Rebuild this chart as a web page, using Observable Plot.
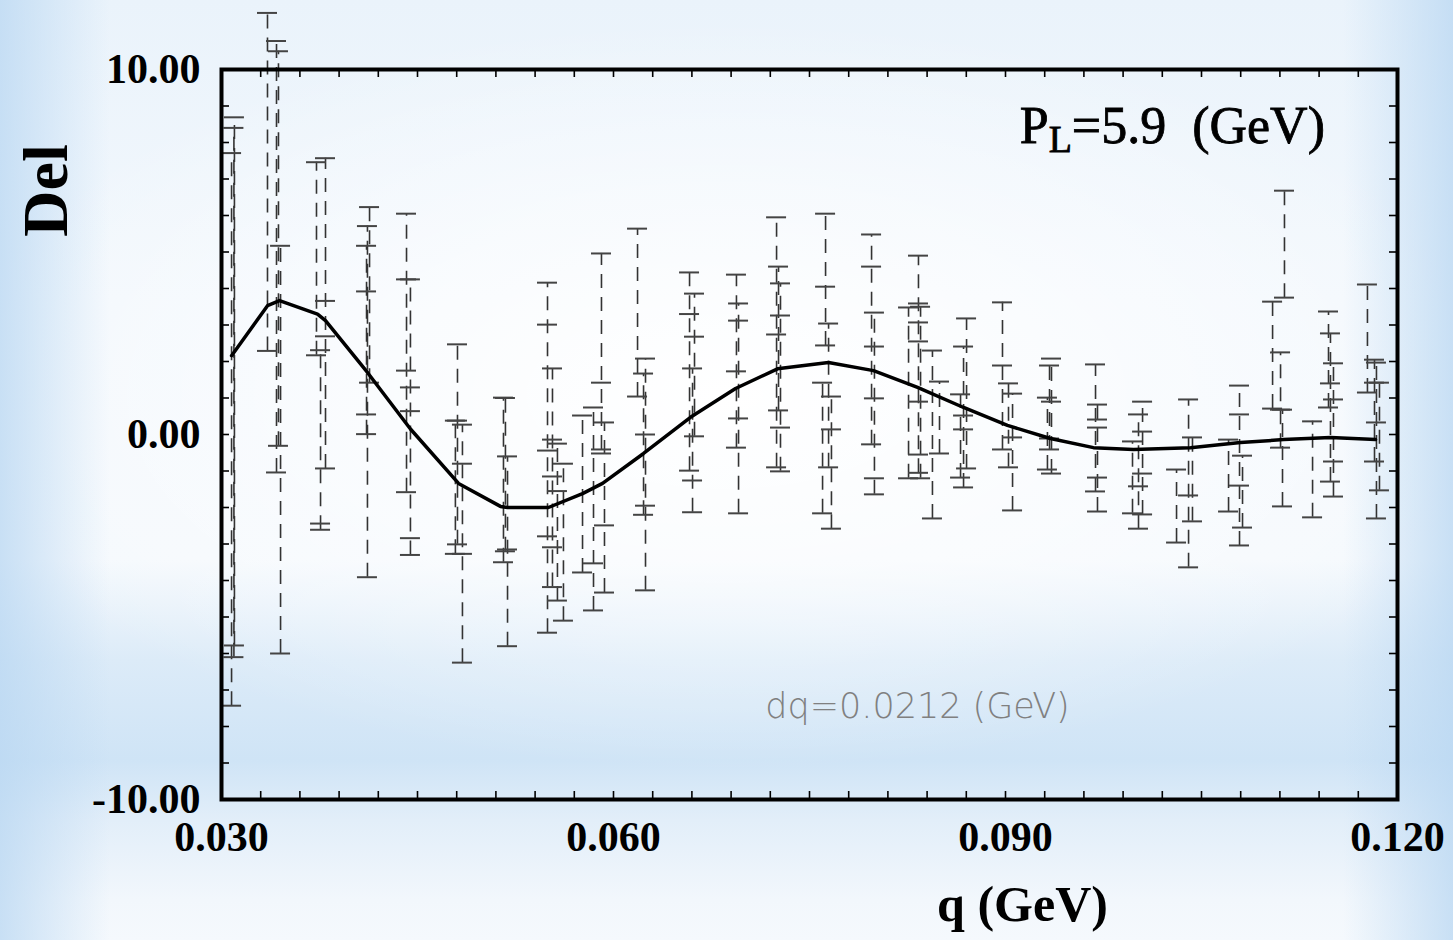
<!DOCTYPE html>
<html>
<head>
<meta charset="utf-8">
<script src="https://cdn.jsdelivr.net/npm/d3@7"></script>
<script src="https://cdn.jsdelivr.net/npm/@observablehq/plot@0.6"></script>
<style>
html, body { margin: 0; padding: 0; width: 1453px; height: 940px; overflow: hidden; }
body {
  background:
    linear-gradient(to right, rgba(185,215,242,0.75) 0px, rgba(185,215,242,0) 110px, rgba(185,215,242,0) 1343px, rgba(185,215,242,0.75) 1453px),
    radial-gradient(ellipse 55% 40% at 50% 42%, rgba(255,255,255,1) 0%, rgba(255,255,255,0) 100%),
    linear-gradient(to bottom, #eaf3fb 0px, #f3f8fd 300px, #f5f9fd 560px, #dcebf8 660px, #cfe4f6 760px, #e2eef9 820px, #f2f7fc 900px, #f5f9fd 940px);
}
#chart { position: absolute; left: 0; top: 0; }
</style>
</head>
<body>
<div id="chart"></div>
<script>
// ---- Data ----
// Theory curve
const curveQ   = [0.03077, 0.03352, 0.03444, 0.03735, 0.03796, 0.04117, 0.04446, 0.04814, 0.05135, 0.05189, 0.05502, 0.05763, 0.05916, 0.06230, 0.06589, 0.06934, 0.07255, 0.07645, 0.07990, 0.08327, 0.08679, 0.09015, 0.09344, 0.09673, 0.09980, 0.10416, 0.10798, 0.11128, 0.11487, 0.11832];
const curveDel = [2.16, 3.53, 3.67, 3.30, 3.12, 1.70, 0.15, -1.34, -1.97, -2.00, -2.00, -1.62, -1.34, -0.52, 0.47, 1.26, 1.80, 1.97, 1.75, 1.29, 0.74, 0.25, -0.11, -0.36, -0.41, -0.36, -0.22, -0.14, -0.08, -0.14];

// Error bars (dashed): position, lower end, upper end
const barQ  = [0.03077, 0.03099, 0.03095,
               0.03352, 0.03421, 0.03436, 0.03452,
               0.03727, 0.03796, 0.03758,
               0.04133, 0.04117, 0.04110,
               0.04416, 0.04446,
               0.04806, 0.04844, 0.04790,
               0.05158, 0.05189, 0.05173,
               0.05495, 0.05533, 0.05571, 0.05617,
               0.05763, 0.05847, 0.05908, 0.05931,
               0.06184, 0.06245, 0.06230,
               0.06582, 0.06620, 0.06605,
               0.06941, 0.06957,
               0.07248, 0.07263, 0.07278,
               0.07600, 0.07623, 0.07646, 0.07668,
               0.07975, 0.07997,
               0.08258, 0.08334, 0.08350, 0.08441, 0.08495,
               0.08656, 0.08702, 0.08679,
               0.08977, 0.09023, 0.09054,
               0.09321, 0.09337, 0.09352,
               0.09689, 0.09704,
               0.09972, 0.10018, 0.10049,
               0.10309, 0.10401, 0.10431,
               0.10707, 0.10791, 0.10814,
               0.11135, 0.11044, 0.11105, 0.11120,
               0.11350, 0.11472, 0.11487, 0.11510,
               0.11770, 0.11824, 0.11839, 0.11862];
const barLo = [-7.43, -5.78, -6.10,
               2.29, -1.04, -0.31, -6.00,
               2.17, -0.93, -2.61,
               1.42, -3.91, 0.01,
               -1.58, -3.30,
               -3.01, -6.25, -3.27,
               -3.50, -5.80, -3.20,
               -5.43, -4.18, -4.55, -5.10,
               -3.78, -4.82, -0.41, -4.33,
               1.04, -4.27, -2.20,
               -0.99, -0.05, -2.13,
               -0.36, -2.16,
               -0.90, 0.66, -1.01,
               -2.16, 2.44, -0.90, -2.58,
               -0.27, -1.64,
               -1.20, -1.05, -1.20, -2.30, -0.52,
               -1.18, -0.93, -1.45,
               -0.41, -0.90, -2.08,
               -0.96, -0.41, -1.07,
               -1.56, -2.11,
               -2.16, -2.58, -2.19,
               -2.96, -3.64, -2.38,
               -2.11, -3.04, -2.55,
               3.75, 0.71, -0.36, -1.97,
               -2.27, 0.74, -1.29, -1.70,
               1.15, -0.74, -2.30, -1.53];
const barHi = [7.71, 8.69, 8.40,
               11.55, 10.78, 10.50, 5.17,
               7.46, 7.57, 2.31,
               6.23, 5.71, 5.17,
               6.05, 4.25,
               2.47, 0.27, 0.38,
               1.01, -0.60, 1.00,
               4.16, 1.81, -0.25, -0.80,
               0.52, 0.74, 4.96, 0.33,
               5.64, 2.08, 1.67,
               4.44, 3.86, 1.81,
               4.38, 3.59,
               5.95, 4.60, 4.14,
               1.42, 6.05, 3.04, 1.04,
               5.48, 3.34,
               3.48, 4.90, 3.50, 2.30, 1.45,
               1.10, 3.18, 2.41,
               3.62, 1.40, 1.12,
               1.01, 1.89, 2.08,
               1.92, 0.82,
               -0.19, 0.55, 0.90,
               -0.96, 0.96, -0.08,
               -0.14, 1.34, -0.58,
               6.68, 3.64, 2.25, 0.68,
               0.36, 3.37, 2.77, 1.95,
               4.11, 2.05, 1.97, 1.42];

// Intermediate tick marks on the bars
const tickQ   = [0.03796, 0.03796, 0.03758,
                 0.04110, 0.04110,
                 0.04416, 0.04416, 0.04446, 0.04446, 0.04446,
                 0.04806, 0.04844, 0.04844,
                 0.05189,
                 0.05495, 0.05495, 0.05495, 0.05533, 0.05533, 0.05533, 0.05571,
                 0.05847, 0.05908, 0.05908, 0.05931,
                 0.06245, 0.06245,
                 0.06582, 0.06620, 0.06605,
                 0.06941, 0.06957, 0.06957,
                 0.07248, 0.07278, 0.07278,
                 0.07623, 0.07668,
                 0.07975, 0.07997, 0.07997, 0.07997,
                 0.08334, 0.08334, 0.08334, 0.08334, 0.08334,
                 0.08679, 0.08679,
                 0.08977, 0.09054,
                 0.09352, 0.09337,
                 0.09704, 0.09704, 0.09704,
                 0.10018, 0.10049, 0.10049,
                 0.10401,
                 0.10791, 0.10791,
                 0.11105,
                 0.11487, 0.11510, 0.11510,
                 0.11839, 0.11824];
const tickDel = [3.66, 2.69, -2.44,
                 3.92, 0.55,
                 4.25, 1.75, 1.29, 0.64, -2.84,
                 0.38, -0.80, -3.27,
                 -3.15,
                 3.01, -0.44, -2.79, -0.14, -1.15, -3.09, -1.55,
                 -3.53, 1.42, -0.52, -2.49,
                 0.00, -1.95,
                 3.30, 2.68, -1.26,
                 1.73, 3.12, 0.44,
                 2.74, 3.26, 0.19,
                 4.05, 0.14,
                 4.60, 2.41, 0.99, -1.20,
                 3.59, 3.07, 2.55, 0.90, -0.55,
                 0.52, 0.14,
                 1.89, -0.08,
                 0.90, -0.11,
                 0.41, 0.19, -1.18,
                 -1.42, 0.08, -1.07,
                 -1.67,
                 0.55, -1.40,
                 0.68,
                 1.40, 0.96, -0.74,
                 0.33, 1.42];

// Axis ticks
const xTickValues = [0.030, 0.060, 0.090, 0.120];
const yTickValues = [-10, 0, 10];
const xMinorTicks = d3.range(0, 31).map(i => 0.030 + i * 0.003);
const yMinorTicks = d3.range(-10, 11, 1);

// ---- Build ----
const W = 1453, H = 940;
const mL = 221, mR = 56, mT = 69, mB = 141;
const xDomain = [0.030, 0.120], yDomain = [-10, 10];
const pxPerQ = (W - mL - mR) / (xDomain[1] - xDomain[0]);
const pxPerDel = (H - mT - mB) / (yDomain[1] - yDomain[0]);
const capHalf = 10 / pxPerQ;      // 10 px half-width caps
const tickLenY = 8 / pxPerDel;    // 8 px inward ticks (vertical)
const tickLenX = 8 / pxPerQ;      // 8 px inward ticks (horizontal)

const curve = curveQ.map((q, i) => ({q, del: curveDel[i]}));
const bars = barQ.map((q, i) => ({q, lo: barLo[i], hi: barHi[i]}));
const caps = bars.flatMap(b => [{q: b.q, del: b.lo}, {q: b.q, del: b.hi}])
  .concat(tickQ.map((q, i) => ({q, del: tickDel[i]})));

const serif = "Liberation Serif, Times New Roman, serif";

const plot = Plot.plot({
  width: W, height: H,
  marginLeft: mL, marginRight: mR, marginTop: mT, marginBottom: mB,
  style: {background: "transparent", overflow: "visible"},
  x: {domain: xDomain},
  y: {domain: yDomain},
  marks: [
    // dashed error bars
    Plot.ruleX(bars, {x: "q", y1: "lo", y2: "hi", stroke: "#333", strokeWidth: 1.6, strokeDasharray: "14,9"}),
    // caps and intermediate ticks
    Plot.ruleY(caps, {y: "del", x1: d => d.q - capHalf, x2: d => d.q + capHalf, stroke: "#444", strokeWidth: 2}),
    // theory curve
    Plot.line(curve, {x: "q", y: "del", stroke: "black", strokeWidth: 3.5, strokeLinejoin: "round"}),
    // inward minor ticks
    Plot.ruleX(xMinorTicks, {x: d => d, y1: yDomain[0], y2: yDomain[0] + tickLenY, stroke: "black", strokeWidth: 1.6}),
    Plot.ruleX(xMinorTicks, {x: d => d, y1: yDomain[1] - tickLenY, y2: yDomain[1], stroke: "black", strokeWidth: 1.6}),
    Plot.ruleY(yMinorTicks, {y: d => d, x1: xDomain[0], x2: xDomain[0] + tickLenX, stroke: "black", strokeWidth: 1.6}),
    Plot.ruleY(yMinorTicks, {y: d => d, x1: xDomain[1] - tickLenX, x2: xDomain[1], stroke: "black", strokeWidth: 1.6}),
    Plot.frame({stroke: "black", strokeWidth: 4}),
    Plot.axisX(xTickValues, {anchor: "bottom", tickSize: 0, tickPadding: 22, label: null,
      tickFormat: d => d.toFixed(3), fontSize: 42, fontFamily: serif, fontWeight: "bold", fill: "black"}),
    Plot.axisY(yTickValues, {anchor: "left", tickSize: 0, tickPadding: 21, label: null,
      tickFormat: d => d.toFixed(2), fontSize: 42, fontFamily: serif, fontWeight: "bold", fill: "black"}),
    // axis titles
    Plot.text(["Del"], {frameAnchor: "top-left", dx: -200, dy: 121, rotate: -90, text: d => d,
      fontSize: 64, fontWeight: "bold", fontFamily: serif, fill: "black", textAnchor: "middle"}),
    Plot.text(["q (GeV)"], {frameAnchor: "bottom", dx: 213, dy: 121, text: d => d,
      fontSize: 50, fontWeight: "bold", fontFamily: serif, fill: "black", textAnchor: "middle"}),
    // resolution note
    Plot.text(["dq=0.0212 (GeV)"], {frameAnchor: "bottom", dx: 108, dy: -82, text: d => d,
      fontSize: 35, fontFamily: "DejaVu Sans, sans-serif", fill: "#808080", textAnchor: "middle", letterSpacing: 1.2, fontWeight: 300})
  ]
});

document.getElementById("chart").appendChild(plot);

// P_L label with subscript
const svg = d3.select(plot);
const frameRight = W - mR;
const lab = svg.append("text")
  .attr("x", frameRight - 72).attr("y", mT + 74)
  .attr("text-anchor", "end")
  .attr("font-family", serif)
  .attr("font-size", 52)
  .attr("fill", "black")
  .attr("stroke", "black")
  .attr("stroke-width", 0.8);
lab.append("tspan").text("P");
lab.append("tspan").attr("font-size", 38).attr("dy", 9).text("L");
lab.append("tspan").attr("dy", -9).text("=5.9  (GeV)").attr("xml:space", "preserve");
</script>
</body>
</html>
